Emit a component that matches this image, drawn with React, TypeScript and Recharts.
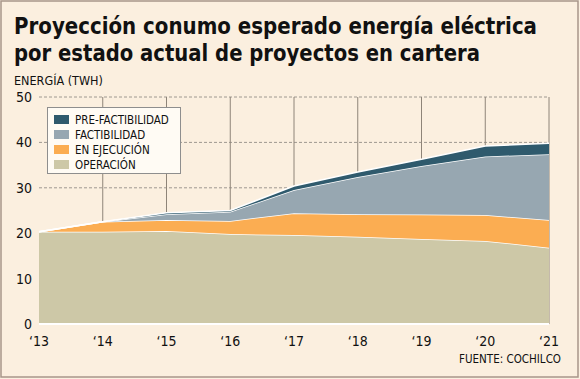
import React from 'react';
import { AreaChart, Area, XAxis, YAxis, CartesianGrid, Legend } from 'recharts';

const years = ['‘13', '‘14', '‘15', '‘16', '‘17', '‘18', '‘19', '‘20', '‘21'];
const operacion = [20.3, 20.3, 20.5, 19.8, 19.6, 19.2, 18.7, 18.3, 16.8];
const ejecucion = [0, 2.2, 2.4, 2.9, 4.8, 5.0, 5.4, 5.7, 6.1];
const factibilidad = [0, 0, 1.3, 2.0, 5.1, 8.2, 10.7, 12.9, 14.5];
const prefactibilidad = [0, 0, 0.3, 0.3, 0.9, 1.1, 1.5, 2.3, 2.4];
const yTicks = [0, 10, 20, 30, 40, 50];

const seriesDefs = [
  { key: 'operacion', name: 'OPERACIÓN', color: '#CDC8A7' },
  { key: 'ejecucion', name: 'EN EJECUCIÓN', color: '#FBAD52' },
  { key: 'factibilidad', name: 'FACTIBILIDAD', color: '#97A7B1' },
  { key: 'prefactibilidad', name: 'PRE-FACTIBILIDAD', color: '#2F5A6D' },
];

const data = years.map((y, i) => ({
  year: y,
  operacion: operacion[i],
  ejecucion: ejecucion[i],
  factibilidad: factibilidad[i],
  prefactibilidad: prefactibilidad[i],
}));

const FONT = "'DejaVu Sans Condensed', 'DejaVu Sans', sans-serif";

const LegendBox = () => (
  <div
    style={{
      background: '#FFFBF4',
      border: '1px solid #8E8E8E',
      width: 134,
      height: 67,
      boxSizing: 'border-box',
      padding: '4px 0 0 6px',
      fontFamily: FONT,
      fontSize: 11.5,
      color: '#111',
      textAlign: 'left',
    }}
  >
    {[...seriesDefs].reverse().map((s) => (
      <div key={s.key} style={{ display: 'flex', alignItems: 'center', height: 15 }}>
        <div style={{ width: 15, height: 9, background: s.color, marginRight: 6 }} />
        <span>{s.name}</span>
      </div>
    ))}
  </div>
);

export default function App() {
  return (
    <div style={{ position: 'absolute', left: 0, top: 0, width: 580, height: 379, background: '#FBEFDF' }}>
      <AreaChart
        width={580}
        height={379}
        data={data}
        margin={{ top: 97, right: 31, left: 0, bottom: 25 }}
      >
        <CartesianGrid vertical={false} stroke="#9E9890" strokeDasharray="3 2" />
        <CartesianGrid
          horizontal={false}
          stroke="#8E8478"
          verticalCoordinatesGenerator={({ offset }: any) =>
            years.slice(1).map((_, i) => offset.left + (offset.width * (i + 1)) / (years.length - 1))
          }
        />
        <XAxis
          dataKey="year"
          tickLine={false}
          axisLine={{ stroke: '#ffffff', strokeWidth: 2 }}
          tickSize={0}
          tickMargin={12}
          height={30}
          interval={0}
          tick={{ fontSize: 14, fill: '#111', fontFamily: FONT }}
        />
        <YAxis
          domain={[0, 50]}
          ticks={yTicks}
          width={39}
          tickLine={false}
          axisLine={false}
          tickSize={0}
          tickMargin={7}
          tick={{ fontSize: 14, fill: '#111', fontFamily: FONT }}
        />
        <Legend
          layout="vertical"
          align="center"
          verticalAlign="middle"
          content={() => <LegendBox />}
          wrapperStyle={{ position: 'absolute', left: 47, top: 107, width: 134, height: 67 }}
        />
        {seriesDefs.map((s) => (
          <Area
            key={s.key}
            type="linear"
            dataKey={s.key}
            name={s.name}
            stackId="1"
            stroke="#ffffff"
            strokeWidth={1.5}
            fill={s.color}
            fillOpacity={1}
            isAnimationActive={false}
            dot={false}
            activeDot={false}
          />
        ))}
      </AreaChart>
      <svg
        width={580}
        height={379}
        style={{ position: 'absolute', left: 0, top: 0, pointerEvents: 'none' }}
      >
        <rect x={1} y={1} width={577} height={376} fill="none" stroke="#A8968A" strokeWidth={1.5} />
        <text x={14} y={34} fontFamily={FONT} fontWeight="bold" fontSize={23} fill="#111" textLength={523} lengthAdjust="spacingAndGlyphs">
          Proyección conumo esperado energía eléctrica
        </text>
        <text x={14} y={61} fontFamily={FONT} fontWeight="bold" fontSize={23} fill="#111" textLength={466} lengthAdjust="spacingAndGlyphs">
          por estado actual de proyectos en cartera
        </text>
        <text x={14} y={85} fontFamily={FONT} fontSize={12.5} fill="#111">
          ENERGÍA (TWH)
        </text>
        <text x={561} y={363} fontFamily={FONT} fontSize={11.5} fill="#111" textAnchor="end">
          FUENTE: COCHILCO
        </text>
      </svg>
    </div>
  );
}
